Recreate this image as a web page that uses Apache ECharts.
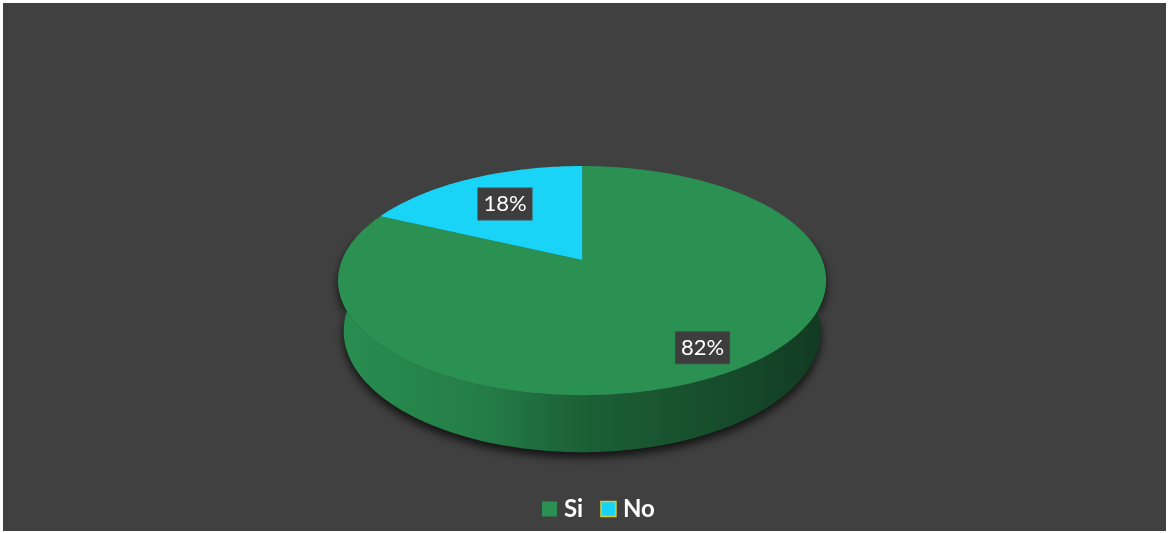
<!DOCTYPE html>
<html>
<head>
<meta charset="utf-8">
<script src="https://cdn.jsdelivr.net/npm/echarts@6/dist/echarts.min.js"></script>
<style>
  html, body { margin: 0; padding: 0; background: #ffffff; }
  #chart { width: 1169px; height: 533px; }
</style>
</head>
<body>
<div id="chart"></div>
<script>
// Survey answers
const categories = ['Si', 'No'];
const values = [82, 18];
const sliceColors = ['#2a9152', '#1ad4f7'];

const total = values.reduce((s, v) => s + v, 0);
const startAngles = [];
values.reduce((acc, v, i) => { startAngles[i] = acc; return acc + v / total * 360; }, 0);

// Perspective camera for the tilted disc (unit radius)
const CAM = { dist: 4.955, sinA: 0.462, cosA: 0.887, thick: 0.24, scale: 240 };

function shade(hex, f) {
  const n = parseInt(hex.slice(1), 16);
  const r = Math.round(((n >> 16) & 255) * f);
  const g = Math.round(((n >> 8) & 255) * f);
  const b = Math.round((n & 255) * f);
  return 'rgb(' + r + ',' + g + ',' + b + ')';
}

function buildSlice(i, api) {
  const W = api.getWidth(), H = api.getHeight();
  const cx = W * 0.498, cy = H * 0.488;
  const F = CAM.scale * CAM.dist;
  const P = (x, y, z) => {
    const depth = CAM.dist - y * CAM.sinA + z * CAM.cosA;
    return [cx + F * x / depth, cy - F * (y * CAM.cosA + z * CAM.sinA) / depth];
  };
  // phi: degrees clockwise from 12 o'clock
  const rim = (phi, y, r) => {
    const t = (90 - phi) * Math.PI / 180;
    return P(r * Math.cos(t), y, r * Math.sin(t));
  };
  const arc = (a, b, y) => {
    const n = Math.max(2, Math.ceil(Math.abs(b - a)));
    const pts = [];
    for (let k = 0; k <= n; k++) pts.push(rim(a + (b - a) * k / n, y, 1));
    return pts;
  };

  const share = values[i] / total;
  const a0 = startAngles[i];
  const a1 = a0 + share * 360;
  const base = sliceColors[i];
  const children = [];

  // outer wall, only where it faces the viewer
  const w0 = Math.max(a0, 75), w1 = Math.min(a1, 285);
  if (w1 > w0) {
    const topEdge = arc(w0, w1, 0);
    const botEdge = arc(w0, w1, -CAM.thick).reverse();
    children.push({
      type: 'polygon',
      z2: 1,
      shape: { points: topEdge.concat(botEdge) },
      style: {
        fill: new echarts.graphic.LinearGradient(0, 0, 1, 0, [
          { offset: 0, color: shade(base, 0.97) },
          { offset: 0.3, color: shade(base, 0.86) },
          { offset: 0.5, color: shade(base, 0.66) },
          { offset: 0.8, color: shade(base, 0.52) },
          { offset: 1, color: shade(base, 0.40) }
        ]),
        shadowBlur: 10,
        shadowOffsetY: 5,
        shadowColor: 'rgba(0,0,0,0.75)'
      }
    });
  }

  // top face
  children.push({
    type: 'polygon',
    z2: 10,
    shape: { points: [P(0, 0, 0)].concat(arc(a0, a1, 0)) },
    style: { fill: base }
  });

  // percentage label; narrow slices pull it toward the centre
  const mid = (a0 + a1) / 2;
  const lp = rim(mid, 0, share > 0.25 ? 0.82 : 0.66);
  children.push({
    type: 'text',
    z2: 20,
    x: lp[0],
    y: lp[1],
    style: {
      text: Math.round(share * 100) + '%',
      fill: '#ffffff',
      font: '22px Lato, "Open Sans", sans-serif',
      align: 'center',
      verticalAlign: 'middle',
      backgroundColor: '#3d3d3d',
      borderColor: '#4a4a4a',
      borderWidth: 1,
      padding: [5, 5, 4, 5]
    }
  });

  return { type: 'group', children };
}

const chart = echarts.init(document.getElementById('chart'), null, { renderer: 'canvas' });
chart.setOption({
  animation: false,
  graphic: [{
    type: 'rect',
    z: -10,
    shape: { x: 3, y: 3, width: 1163, height: 528 },
    style: { fill: '#404040' }
  }],
  legend: {
    top: 492,
    left: 537,
    icon: 'rect',
    itemWidth: 15,
    itemHeight: 15,
    itemGap: 17,
    textStyle: { color: '#ffffff', fontSize: 24, fontWeight: 'bold', fontFamily: 'Lato, "Open Sans", sans-serif', padding: [0, 0, 0, 2] },
    data: [
      { name: 'Si' },
      { name: 'No', itemStyle: { borderColor: '#d0cf3a', borderWidth: 1.5 } }
    ]
  },
  series: categories.map((name, i) => ({
    type: 'custom',
    name: name,
    coordinateSystem: 'none',
    itemStyle: { color: sliceColors[i] },
    data: [values[i]],
    renderItem: (params, api) => buildSlice(i, api)
  }))
});
</script>
</body>
</html>
